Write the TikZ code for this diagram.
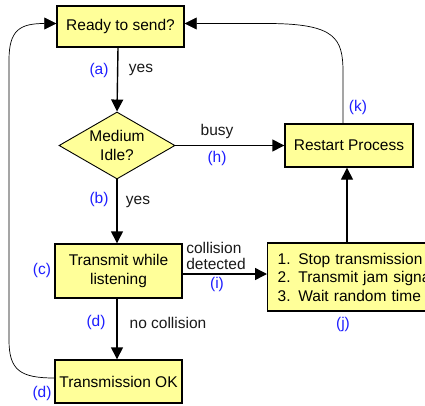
\documentclass[tikz,border=0pt]{standalone}
\usepackage{fontspec}
\setmainfont{Liberation Sans}
\usetikzlibrary{shapes.geometric,arrows.meta}
\definecolor{boxfill}{RGB}{255,255,153}
\definecolor{lblue}{RGB}{30,30,255}
\begin{document}
\begin{tikzpicture}[x=1pt,y=-1pt,
  every node/.style={font=\fontsize{15.5}{18.5}\selectfont, inner sep=0pt},
  box/.style={draw=black, line width=1.4pt, fill=boxfill, align=center},
  dia/.style={draw=black, line width=0.9pt, fill=boxfill, diamond, aspect=1.73, align=center},
  arr/.style={line width=1.4pt, -{Triangle[length=12pt,width=12pt]}},
  thin arr/.style={line width=0.7pt, -{Triangle[length=12pt,width=12pt]}},
  lab/.style={text=lblue},
  txt/.style={text=black!90}
]
\useasboundingbox[clip] (0,0) rectangle (425,406);
\fill[white] (0,0) rectangle (425,406);
\node[box, minimum width=127pt, minimum height=41pt] (ready) at (120.5,26.5) {Ready to send?};
\node[dia, minimum width=116pt, minimum height=67pt] (idle) at (117,145.5) {Medium\\Idle?};
\node[box, minimum width=128pt, minimum height=43pt] (restart) at (349,145.5) {Restart Process};
\node[box, minimum width=127pt, minimum height=54pt] (trans) at (118.5,271) {Transmit while\\listening};
\node[box, minimum width=190pt, minimum height=68pt, align=left, anchor=west, text width=180pt] (jam) at (267,277) {\hspace*{5pt}1. Stop transmission\\\hspace*{5pt}2. Transmit jam signal\\\hspace*{5pt}3. Wait random time};
\node[box, minimum width=127pt, minimum height=43pt] (ok) at (118.5,381.5) {Transmission OK};

\draw[arr] (ready.south -| 118,0) -- (idle.north);
\node[lab] (la) at (99,70) {(a)};
\node[txt] (ya) at (141,70) {yes};

\draw[arr] (idle.south) -- (idle.south |- trans.north);
\node[lab] (lb) at (99,199) {(b)};
\node[txt] (yb) at (138,202) {yes};

\draw[arr] (idle.east) -- (idle.east -| restart.west);
\node[txt] (busy) at (217,131) {busy};
\node[lab] (lh) at (217,158) {(h)};

\draw[arr] (trans.east |- 0,274) -- (jam.west |- 0,274);
\node[txt, align=left, font=\fontsize{15.5}{16}\selectfont] (coll) at (216,255.5) {collision\\detected};
\node[lab] (li) at (217,284) {(i)};
\node[lab] (lj) at (343,324) {(j)};

\draw[arr] (jam.north -| 347,0) -- (restart.south -| 347,0);

\draw[thin arr] (restart.north -| 343,0) -- (343,72) .. controls (343,38) and (335,24) .. (270,23.5) -- (ready.east |- 0,23.5);
\node[lab] (lk) at (358,107) {(k)};

\draw[arr] (trans.south -| 117,0) -- (ok.north -| 117,0);
\node[lab] (ld) at (96,322) {(d)};
\node[txt] (nc) at (168,323) {no collision};

\draw[thin arr] (ok.west |- 0,378) .. controls (20,378) and (9,370) .. (9,340) -- (9,60) .. controls (9,30) and (20,23.5) .. (ready.west |- 0,23.5);
\node[lab] (ld2) at (42,393) {(d)};
\node[lab] (lc) at (42,270) {(c)};
\end{tikzpicture}
\end{document}
